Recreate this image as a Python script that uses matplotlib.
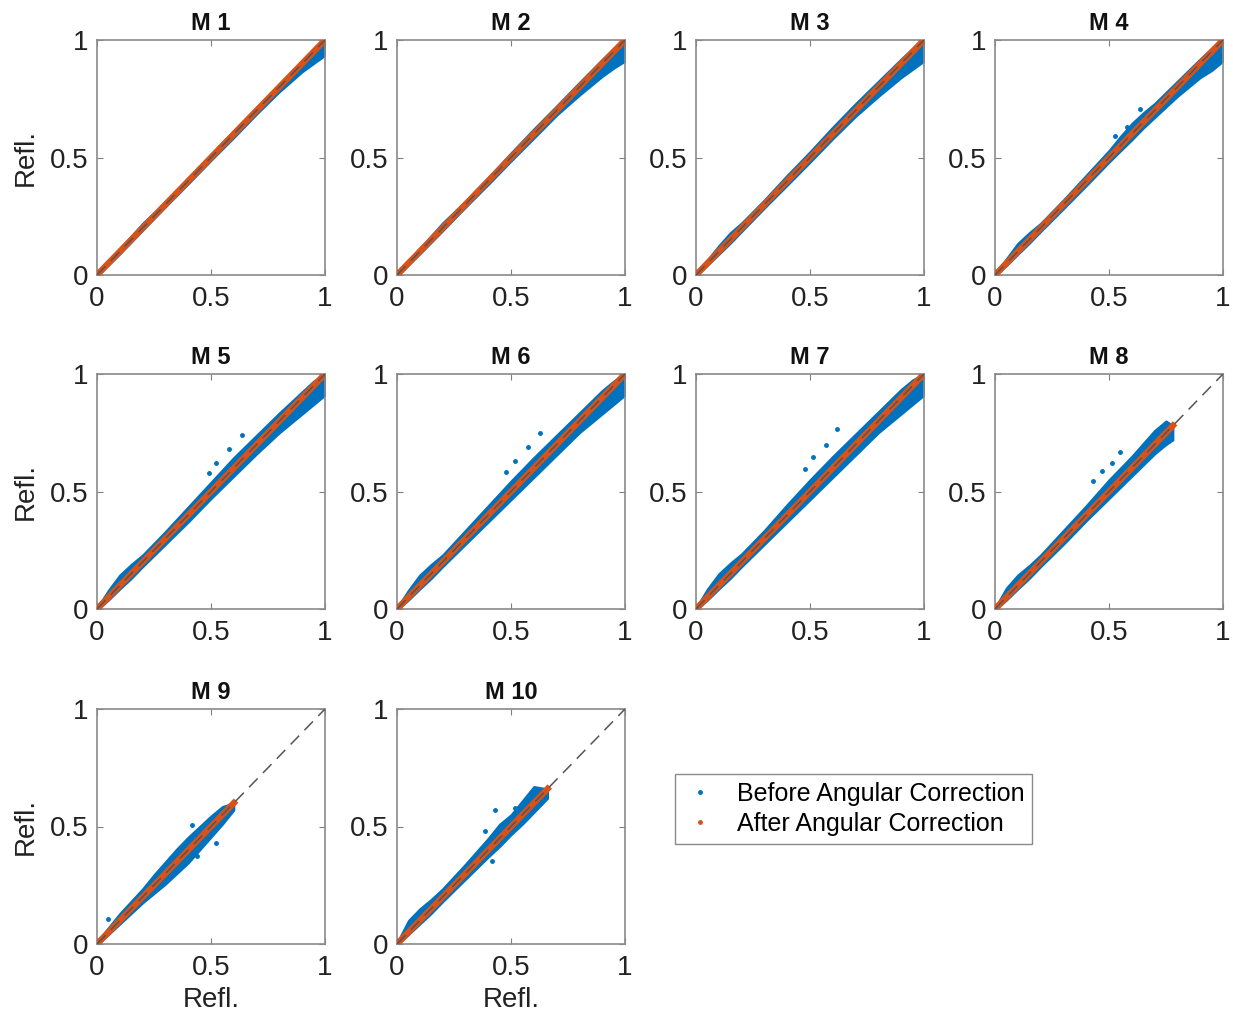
import matplotlib
matplotlib.use("Agg")
import matplotlib.pyplot as plt
import numpy as np
from matplotlib.lines import Line2D

plt.rcParams['font.family'] = ['Liberation Sans', 'DejaVu Sans']

BLUE = '#0072BD'
ORANGE = '#D95319'

PANEL_NAMES = ['M 1', 'M 2', 'M 3', 'M 4', 'M 5', 'M 6', 'M 7', 'M 8', 'M 9', 'M 10']

# reflectance nodes along the 1:1 line where the "before" cloud edges were read
BEFORE_X = [
    [0, .1, .2, .3, .4, .5, .6, .7, .8, .9, .95, 1.0],
    [0, .1, .2, .3, .4, .5, .6, .7, .8, .9, .95, 1.0],
    [0, .1, .15, .2, .3, .4, .5, .6, .7, .8, .9, .95, 1.0],
    [0, .05, .1, .15, .2, .3, .4, .5, .55, .6, .65, .7, .8, .9, .95, 1.0],
    [0, .05, .1, .15, .2, .3, .4, .5, .6, .7, .8, .9, .95, 1.0],
    [0, .05, .1, .15, .2, .3, .4, .5, .6, .7, .8, .9, .95, 1.0],
    [0, .05, .1, .15, .2, .3, .4, .5, .6, .7, .8, .9, .95, 1.0],
    [0, .05, .1, .15, .2, .3, .4, .5, .6, .7, .75, .78],
    [0, .05, .1, .2, .25, .3, .35, .4, .45, .5, .55, .6],
    [0, .05, .1, .15, .2, .3, .4, .45, .5, .55, .6, .66],
]
# upper / lower spread of the cloud around the 1:1 line
BEFORE_HI = [
    [.005, .012, .02, .012, .013, .015, .015, .013, .012, .01, .01, .0],
    [.005, .014, .022, .015, .016, .02, .022, .02, .02, .018, .015, .0],
    [.005, .025, .03, .022, .02, .025, .025, .03, .03, .025, .02, .015, .0],
    [.005, .02, .035, .03, .02, .02, .025, .03, .04, .045, .04, .03, .025, .02, .015, .0],
    [.005, .03, .045, .04, .03, .03, .035, .04, .045, .04, .035, .025, .02, .0],
    [.005, .03, .045, .04, .03, .035, .04, .045, .045, .04, .035, .03, .02, .0],
    [.005, .035, .05, .045, .035, .035, .045, .05, .05, .045, .04, .035, .025, .0],
    [.005, .04, .045, .035, .03, .035, .04, .05, .05, .06, .05, .0],
    [.01, .02, .03, .035, .045, .05, .055, .055, .05, .045, .035, .0],
    [.005, .05, .05, .04, .035, .04, .05, .06, .05, .06, .07, .0],
]
BEFORE_LO = [
    [-.005, -.01, -.01, -.01, -.012, -.012, -.015, -.015, -.02, -.035, -.05, -.065],
    [-.005, -.01, -.012, -.012, -.015, -.015, -.018, -.02, -.035, -.055, -.07, -.09],
    [-.005, -.012, -.015, -.015, -.015, -.018, -.02, -.02, -.025, -.04, -.06, -.075, -.09],
    [-.005, -.01, -.012, -.015, -.015, -.018, -.02, -.02, -.022, -.025, -.025, -.03, -.04, -.06, -.08, -.09],
    [-.005, -.012, -.015, -.02, -.02, -.025, -.03, -.03, -.035, -.04, -.05, -.07, -.08, -.09],
    [-.005, -.012, -.015, -.02, -.02, -.025, -.03, -.035, -.04, -.045, -.05, -.07, -.08, -.09],
    [-.005, -.012, -.015, -.02, -.02, -.025, -.03, -.035, -.04, -.045, -.05, -.07, -.08, -.09],
    [-.005, -.012, -.015, -.02, -.02, -.025, -.025, -.03, -.035, -.04, -.05, -.06],
    [-.005, -.01, -.015, -.025, -.035, -.045, -.05, -.055, -.05, -.045, -.04, -.03],
    [-.005, -.01, -.015, -.02, -.02, -.025, -.03, -.035, -.035, -.04, -.04, -.04],
]

# isolated "before" points sitting off the main cloud
OUTLIER_X = [
    [], [], [],
    [.525, .578, .637],
    [.49, .524, .58, .636],
    [.479, .516, .575, .627],
    [.476, .512, .571, .62],
    [.431, .468, .511, .548],
    [.05, .415, .44, .52],
    [.386, .43, .418, .517],
]
OUTLIER_Y = [
    [], [], [],
    [.59, .63, .707],
    [.58, .62, .68, .74],
    [.583, .63, .69, .75],
    [.596, .645, .70, .766],
    [.543, .586, .621, .667],
    [.106, .505, .374, .43],
    [.48, .572, .353, .577],
]

# extent of the corrected ("after") points along the 1:1 line
AFTER_END = [1.0, 1.0, 1.0, 1.0, 1.0, 1.0, 1.0, 0.79, 0.61, 0.67]

TICKS = [0, 0.5, 1]
TICK_LABELS = ['0', '0.5', '1']

W, H = 1233, 1019
col_left = [97, 397, 696, 995]
row_top = [40, 374, 709]
aw, ah = 228, 235

fig = plt.figure(figsize=(W / 100, H / 100), dpi=100)

for i, name in enumerate(PANEL_NAMES):
    r, c = divmod(i, 4)
    ax = fig.add_axes([col_left[c] / W, 1 - (row_top[r] + ah) / H, aw / W, ah / H])

    x = np.array(BEFORE_X[i])
    ax.fill_between(x, x + np.array(BEFORE_LO[i]), x + np.array(BEFORE_HI[i]),
                    color=BLUE, edgecolor=BLUE, linewidth=1.5, zorder=2)
    ax.plot(OUTLIER_X[i], OUTLIER_Y[i], ls='none', marker='.', ms=5, color=BLUE, zorder=2)

    ax.plot([0, AFTER_END[i]], [0, AFTER_END[i]], color=ORANGE, lw=4.5,
            solid_capstyle='butt', zorder=3)
    ax.plot([0, 1], [0, 1], color='#555555', lw=1.1, dashes=(8, 5), zorder=4)

    ax.set_xlim(0, 1)
    ax.set_ylim(0, 1)
    ax.set_xticks(TICKS)
    ax.set_yticks(TICKS)
    ax.set_xticklabels(TICK_LABELS)
    ax.set_yticklabels(TICK_LABELS)
    ax.tick_params(direction='in', length=4, width=0.8, color='#808080',
                   top=True, right=True, labelsize=20, labelcolor='#222222')
    ax.tick_params(axis='x', pad=8)
    ax.tick_params(axis='y', pad=6)
    for sp in ax.spines.values():
        sp.set_color('#8a8a8a')
        sp.set_linewidth(1.2)

    ax.set_title(name, fontsize=17, fontweight='bold', pad=7, color='#111111')
    if c == 0:
        ax.set_ylabel('Refl.', fontsize=20, color='#222222', labelpad=8)
    if r == 2:
        ax.set_xlabel('Refl.', fontsize=20, color='#222222', labelpad=4)

handles = [
    Line2D([], [], ls='none', marker='.', ms=5, color=BLUE),
    Line2D([], [], ls='none', marker='.', ms=5, color=ORANGE),
]
leg = fig.legend(handles, ['Before Angular Correction', 'After Angular Correction'],
                 loc='lower left', bbox_to_anchor=(662 / W, 1 - 856 / H),
                 fontsize=18, frameon=True, fancybox=False, framealpha=1,
                 edgecolor='#8a8a8a', borderpad=0.3, handletextpad=0.8,
                 handlelength=1.4, labelspacing=0.25)
leg.get_frame().set_linewidth(1.0)

fig.savefig('out.png', dpi=100)
